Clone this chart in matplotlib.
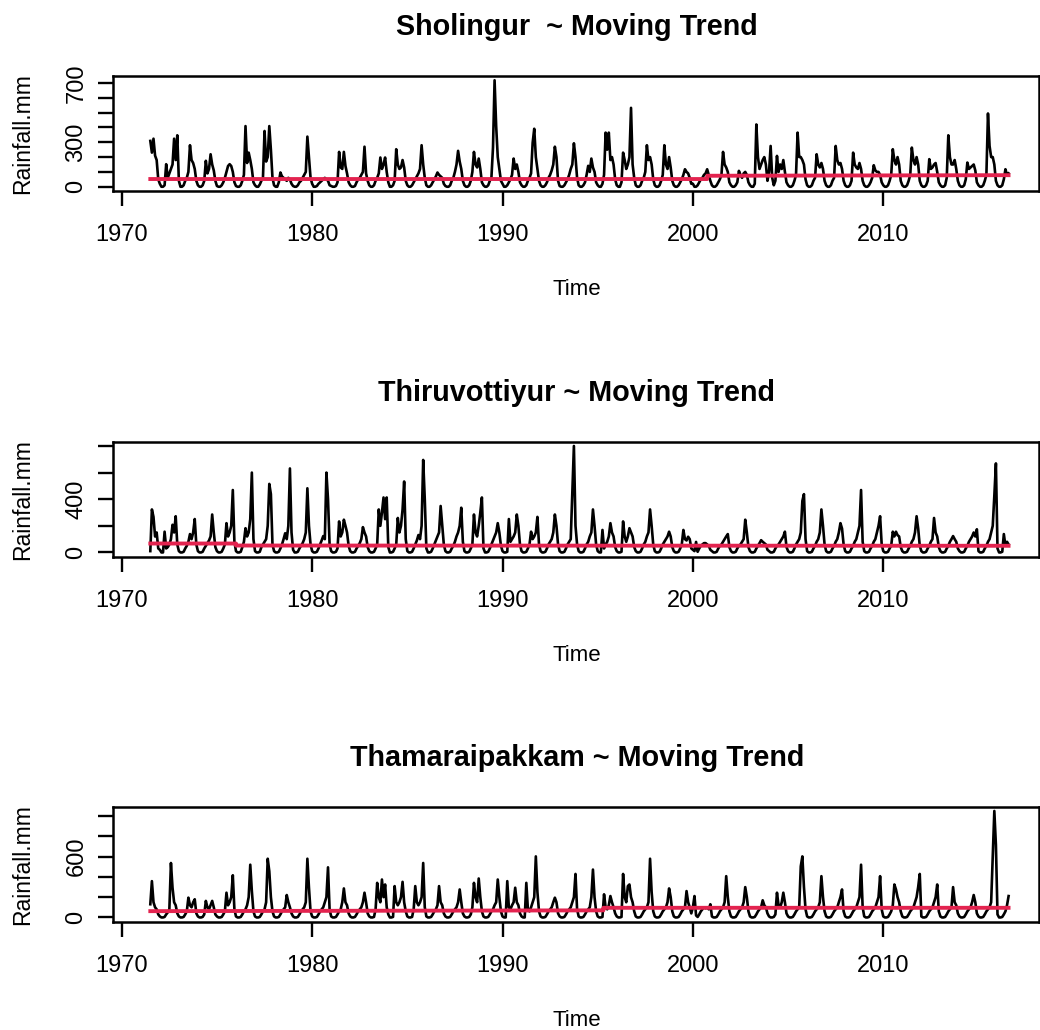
import numpy as np
import matplotlib
matplotlib.use("Agg")
import matplotlib.pyplot as plt

plt.rcParams['font.family'] = ['Liberation Sans', 'DejaVu Sans']

# ---------------- data (monthly rainfall, mm) ----------------
# series start July 1971, end August 2016 (first row Jul-Dec, last row Jan-Aug)
START_YEAR = 1971
START_MONTH = 7

SHOLINGUR_MM = [
    [309, 230, 324, 210, 180, 50],
    [20, 0, 0, 10, 152, 60, 90, 120, 150, 324, 180, 347],
    [40, 0, 0, 10, 40, 60, 100, 280, 180, 160, 120, 40],
    [10, 0, 0, 10, 40, 175, 90, 120, 219, 150, 110, 40],
    [5, 0, 0, 10, 30, 60, 100, 140, 152, 140, 100, 30],
    [5, 0, 0, 10, 40, 80, 409, 160, 230, 180, 120, 30],
    [10, 0, 0, 15, 40, 60, 376, 170, 200, 409, 250, 60],
    [10, 0, 0, 30, 96, 70, 60, 50, 40, 60, 50, 20],
    [5, 0, 0, 10, 30, 40, 60, 80, 100, 338, 200, 60],
    [20, 0, 0, 5, 20, 30, 40, 50, 60, 50, 40, 10],
    [5, 0, 0, 5, 30, 235, 130, 120, 235, 140, 90, 30],
    [10, 0, 0, 5, 30, 50, 60, 80, 100, 270, 90, 40],
    [10, 0, 0, 10, 40, 60, 90, 197, 120, 150, 197, 100],
    [30, 0, 0, 10, 40, 253, 150, 120, 130, 180, 130, 40],
    [10, 0, 0, 10, 30, 50, 70, 90, 120, 280, 150, 60],
    [10, 0, 0, 10, 30, 50, 70, 96, 80, 70, 60, 20],
    [5, 0, 0, 10, 40, 60, 100, 150, 242, 170, 120, 40],
    [10, 0, 0, 10, 40, 100, 235, 150, 130, 190, 120, 30],
    [10, 0, 0, 10, 40, 60, 264, 718, 409, 200, 120, 40],
    [20, 0, 0, 10, 30, 50, 80, 190, 120, 150, 100, 30],
    [10, 0, 0, 10, 40, 60, 90, 297, 391, 200, 120, 40],
    [10, 0, 0, 10, 30, 60, 80, 110, 150, 270, 200, 40],
    [5, 0, 0, 10, 30, 50, 80, 120, 150, 293, 200, 60],
    [10, 0, 0, 10, 30, 80, 141, 100, 190, 130, 100, 30],
    [10, 0, 0, 20, 80, 365, 250, 365, 180, 200, 150, 50],
    [10, 0, 0, 30, 230, 180, 120, 150, 200, 532, 150, 60],
    [10, 0, 0, 10, 40, 60, 100, 280, 180, 200, 150, 50],
    [10, 0, 0, 10, 40, 80, 280, 150, 120, 200, 130, 40],
    [10, 0, 0, 10, 30, 50, 80, 118, 100, 90, 60, 20],
    [20, 0, 0, 10, 30, 50, 60, 80, 90, 118, 80, 40],
    [10, 0, 0, 10, 30, 50, 80, 235, 150, 130, 100, 30],
    [10, 0, 0, 10, 30, 107, 80, 60, 90, 100, 80, 30],
    [10, 0, 0, 20, 420, 200, 120, 150, 180, 200, 150, 40],
    [100, 275, 60, 10, 40, 208, 100, 150, 120, 180, 100, 30],
    [10, 0, 0, 10, 40, 80, 365, 200, 200, 180, 150, 50],
    [10, 0, 0, 10, 40, 60, 219, 150, 130, 160, 120, 40],
    [10, 0, 0, 10, 40, 60, 275, 180, 150, 160, 120, 40],
    [10, 0, 0, 10, 40, 230, 150, 130, 120, 160, 120, 40],
    [10, 0, 0, 10, 30, 60, 145, 110, 100, 100, 80, 30],
    [10, 0, 0, 10, 40, 80, 253, 180, 150, 200, 150, 40],
    [10, 0, 0, 10, 40, 80, 264, 180, 150, 200, 150, 40],
    [10, 0, 0, 10, 40, 186, 120, 130, 150, 160, 100, 30],
    [10, 0, 0, 10, 60, 347, 200, 150, 150, 180, 120, 40],
    [10, 0, 0, 10, 50, 163, 120, 130, 140, 150, 110, 30],
    [10, 0, 0, 10, 40, 80, 494, 275, 200, 200, 150, 40],
    [10, 0, 0, 10, 50, 118, 80, 90],
]

THIRUVOTTIYUR_MM = [
    [10, 323, 267, 120, 150, 30],
    [20, 0, 0, 156, 30, 40, 60, 100, 208, 150, 272, 60],
    [10, 0, 0, 5, 30, 50, 80, 138, 100, 150, 251, 60],
    [10, 0, 0, 5, 30, 50, 70, 90, 120, 285, 150, 40],
    [10, 0, 0, 5, 30, 60, 220, 120, 150, 200, 469, 80],
    [10, 0, 0, 5, 40, 80, 182, 120, 150, 250, 600, 100],
    [10, 0, 0, 5, 40, 60, 80, 100, 200, 515, 438, 60],
    [10, 0, 0, 5, 30, 60, 100, 144, 100, 200, 631, 150],
    [20, 0, 0, 5, 30, 50, 70, 100, 150, 482, 200, 60],
    [10, 0, 0, 5, 30, 60, 90, 123, 100, 600, 400, 60],
    [10, 0, 0, 5, 30, 233, 120, 150, 246, 200, 150, 50],
    [10, 0, 0, 5, 30, 50, 70, 100, 190, 150, 120, 40],
    [10, 0, 0, 5, 30, 60, 323, 200, 300, 413, 250, 413],
    [40, 0, 0, 5, 30, 60, 259, 150, 200, 323, 533, 100],
    [10, 0, 0, 5, 30, 60, 90, 131, 100, 200, 695, 400],
    [30, 0, 0, 5, 30, 60, 90, 120, 150, 349, 200, 60],
    [10, 0, 0, 5, 30, 50, 80, 120, 150, 200, 336, 80],
    [10, 0, 0, 5, 30, 60, 285, 150, 120, 200, 300, 413],
    [30, 0, 0, 5, 30, 60, 90, 120, 150, 220, 150, 50],
    [10, 0, 0, 5, 251, 80, 100, 120, 150, 285, 200, 60],
    [10, 0, 0, 5, 30, 60, 156, 100, 120, 150, 267, 60],
    [10, 0, 0, 5, 30, 60, 80, 100, 150, 285, 200, 60],
    [10, 0, 0, 5, 30, 60, 80, 100, 451, 800, 200, 60],
    [10, 0, 0, 5, 30, 60, 80, 120, 150, 323, 200, 60],
    [10, 0, 0, 169, 30, 60, 80, 120, 220, 150, 120, 40],
    [10, 0, 0, 5, 233, 120, 80, 120, 182, 150, 120, 40],
    [10, 0, 0, 5, 30, 60, 80, 120, 150, 323, 200, 60],
    [10, 0, 0, 5, 30, 60, 80, 100, 120, 156, 120, 40],
    [10, 0, 0, 5, 30, 60, 169, 100, 90, 118, 100, 30],
    [20, 10, 79, 5, 30, 50, 60, 70, 70, 60, 50, 20],
    [10, 0, 0, 5, 30, 50, 60, 80, 100, 120, 138, 40],
    [10, 0, 0, 5, 30, 50, 60, 80, 100, 246, 150, 40],
    [10, 0, 0, 5, 30, 50, 70, 92, 80, 70, 60, 20],
    [10, 0, 0, 5, 30, 50, 60, 80, 100, 120, 156, 40],
    [10, 0, 0, 5, 30, 60, 80, 100, 150, 387, 438, 100],
    [10, 0, 0, 5, 30, 50, 80, 100, 150, 323, 200, 60],
    [10, 0, 0, 5, 30, 50, 80, 100, 150, 220, 180, 60],
    [10, 0, 0, 5, 30, 50, 80, 100, 150, 200, 469, 80],
    [10, 0, 0, 5, 30, 50, 80, 100, 150, 200, 272, 60],
    [10, 0, 0, 5, 30, 50, 156, 120, 156, 130, 120, 40],
    [10, 0, 0, 5, 30, 50, 80, 100, 150, 272, 180, 50],
    [10, 0, 0, 5, 30, 50, 80, 100, 259, 150, 120, 40],
    [10, 0, 0, 5, 30, 50, 80, 100, 123, 100, 80, 30],
    [10, 0, 0, 5, 30, 50, 80, 100, 120, 150, 120, 174],
    [10, 0, 0, 5, 30, 50, 80, 100, 150, 200, 425, 669],
    [30, 0, 0, 5, 138, 50, 80, 60],
]

THAMARAIPAKKAM_MM = [
    [130, 358, 150, 100, 80, 30],
    [10, 0, 0, 5, 30, 50, 80, 537, 293, 150, 120, 40],
    [10, 0, 0, 5, 30, 60, 195, 120, 100, 150, 179, 40],
    [10, 0, 0, 5, 30, 163, 100, 80, 120, 163, 100, 30],
    [10, 0, 0, 5, 30, 60, 244, 120, 150, 200, 416, 80],
    [10, 0, 0, 5, 30, 60, 80, 120, 200, 520, 260, 60],
    [10, 0, 0, 5, 30, 60, 80, 150, 579, 455, 200, 60],
    [10, 0, 0, 5, 30, 60, 80, 100, 221, 150, 100, 40],
    [10, 0, 0, 5, 30, 60, 80, 100, 150, 579, 293, 60],
    [10, 0, 0, 5, 30, 60, 80, 100, 150, 200, 494, 80],
    [10, 0, 0, 5, 30, 60, 80, 150, 286, 150, 120, 40],
    [10, 0, 0, 5, 30, 60, 80, 100, 150, 244, 150, 40],
    [10, 0, 0, 5, 80, 341, 200, 150, 374, 200, 325, 100],
    [30, 0, 0, 5, 309, 150, 120, 150, 200, 351, 150, 60],
    [10, 0, 0, 5, 80, 309, 150, 120, 150, 200, 537, 100],
    [10, 0, 0, 5, 30, 60, 80, 120, 309, 150, 120, 40],
    [10, 0, 0, 5, 30, 60, 80, 100, 150, 276, 150, 40],
    [10, 0, 0, 5, 30, 100, 341, 200, 150, 384, 200, 60],
    [10, 0, 0, 5, 30, 60, 80, 120, 150, 374, 200, 60],
    [10, 0, 0, 358, 100, 80, 120, 150, 293, 150, 120, 40],
    [10, 0, 0, 341, 80, 60, 100, 150, 200, 602, 250, 60],
    [10, 0, 0, 5, 30, 60, 80, 100, 150, 195, 150, 40],
    [10, 0, 0, 5, 30, 60, 80, 100, 150, 200, 429, 80],
    [10, 0, 0, 5, 30, 60, 80, 100, 200, 472, 200, 60],
    [10, 0, 0, 5, 228, 100, 80, 120, 211, 150, 100, 40],
    [10, 0, 0, 5, 429, 200, 150, 309, 325, 200, 150, 60],
    [10, 0, 0, 5, 30, 60, 80, 100, 150, 579, 250, 60],
    [10, 0, 0, 5, 30, 60, 80, 100, 150, 286, 200, 60],
    [10, 0, 0, 5, 30, 60, 80, 100, 260, 150, 100, 40],
    [100, 211, 20, 5, 30, 60, 80, 100, 90, 100, 80, 130],
    [10, 0, 0, 5, 30, 60, 80, 100, 150, 407, 200, 60],
    [10, 0, 0, 5, 30, 60, 80, 100, 150, 299, 200, 60],
    [10, 0, 0, 5, 30, 60, 80, 100, 169, 120, 100, 40],
    [10, 0, 0, 5, 30, 244, 120, 100, 150, 244, 150, 40],
    [10, 0, 0, 5, 30, 60, 80, 100, 504, 602, 300, 80],
    [10, 0, 0, 5, 30, 60, 80, 100, 150, 407, 200, 60],
    [10, 0, 0, 5, 30, 60, 80, 100, 150, 200, 276, 60],
    [10, 0, 0, 5, 30, 60, 80, 100, 150, 200, 520, 100],
    [10, 0, 0, 5, 30, 60, 80, 100, 150, 200, 407, 80],
    [10, 0, 0, 5, 30, 60, 120, 325, 276, 200, 150, 60],
    [10, 0, 0, 5, 30, 60, 80, 100, 150, 200, 300, 429],
    [10, 0, 0, 5, 30, 60, 80, 100, 150, 200, 325, 60],
    [10, 0, 0, 5, 30, 60, 80, 100, 299, 150, 120, 40],
    [10, 0, 0, 5, 30, 60, 80, 100, 150, 221, 150, 40],
    [10, 0, 0, 5, 30, 60, 80, 100, 150, 602, 1050, 715],
    [30, 0, 0, 5, 30, 60, 120, 211],
]

# moving trend (piecewise, time in decimal years, value in mm)
SHOLINGUR_TREND_T = [1971.5, 2000.75, 2000.75, 2016.58]
SHOLINGUR_TREND_V = [52, 52, 74, 78]
THIRUVOTTIYUR_TREND_T = [1971.5, 1976.0, 1976.0, 2016.58]
THIRUVOTTIYUR_TREND_V = [67, 67, 52, 50]
THAMARAIPAKKAM_TREND_T = [1971.5, 1995.3, 1995.3, 2016.58]
THAMARAIPAKKAM_TREND_V = [62, 70, 95, 95]

TITLES = ["Sholingur  ~ Moving Trend",
          "Thiruvottiyur ~ Moving Trend",
          "Thamaraipakkam ~ Moving Trend"]
X_TICKS = [1970, 1980, 1990, 2000, 2010]
Y_TICKS = [[0, 100, 200, 300, 400, 500, 600, 700],
           [0, 200, 400, 600, 800],
           [0, 200, 400, 600, 800, 1000]]
Y_TICK_LABELS = [["0", "", "", "300", "", "", "", "700"],
                 ["0", "", "400", "", ""],
                 ["0", "", "", "600", "", ""]]

SERIES = [SHOLINGUR_MM, THIRUVOTTIYUR_MM, THAMARAIPAKKAM_MM]
TRENDS = [(SHOLINGUR_TREND_T, SHOLINGUR_TREND_V),
          (THIRUVOTTIYUR_TREND_T, THIRUVOTTIYUR_TREND_V),
          (THAMARAIPAKKAM_TREND_T, THAMARAIPAKKAM_TREND_V)]

# ---------------- layout (pixels) ----------------
W, H = 1040, 1030
BOX_LEFT, BOX_RIGHT = 113, 1039
BOX_TOPS = [76, 441.7, 806.7]
BOX_H = 115
XLIM = (1969.54, 2018.18)
RED = "#E3234F"

fig = plt.figure(figsize=(W / 100, H / 100), dpi=100)

for i in range(3):
    vals = np.array([v for row in SERIES[i] for v in row], dtype=float)
    t = START_YEAR + (START_MONTH - 1) / 12 + np.arange(len(vals)) / 12.0

    top = BOX_TOPS[i]
    ax = fig.add_axes([BOX_LEFT / W, 1 - (top + BOX_H) / H,
                       (BOX_RIGHT - BOX_LEFT) / W, BOX_H / H])
    ax.plot(t, vals, color="black", lw=1.9, solid_joinstyle="round")
    tt, tv = TRENDS[i]
    ax.plot(tt, tv, color=RED, lw=2.8)

    vmin, vmax = vals.min(), vals.max()
    pad = 0.04 * (vmax - vmin)
    ax.set_ylim(vmin - pad, vmax + pad)
    ax.set_xlim(*XLIM)

    ax.set_xticks(X_TICKS)
    ax.set_xticklabels([str(x) for x in X_TICKS])
    ax.set_yticks(Y_TICKS[i])
    ax.set_yticklabels(Y_TICK_LABELS[i], rotation=90, va="center")
    ax.tick_params(axis="x", length=10.5, width=1.7, pad=13.5, labelsize=17)
    ax.tick_params(axis="y", length=10.5, width=1.7, pad=8, labelsize=17)
    for s in ax.spines.values():
        s.set_linewidth(1.8)

    fig.text(577 / W, 1 - (top - 41) / H, TITLES[i], ha="center", va="baseline",
             fontsize=20.7, fontweight="bold")
    fig.text(577 / W, 1 - (top + BOX_H + 104) / H, "Time", ha="center",
             va="baseline", fontsize=16)
    fig.text(23 / W, 1 - (top + BOX_H / 2) / H, "Rainfall.mm", rotation=90,
             ha="center", va="center", fontsize=16.5)

fig.savefig("out.png", dpi=100)
